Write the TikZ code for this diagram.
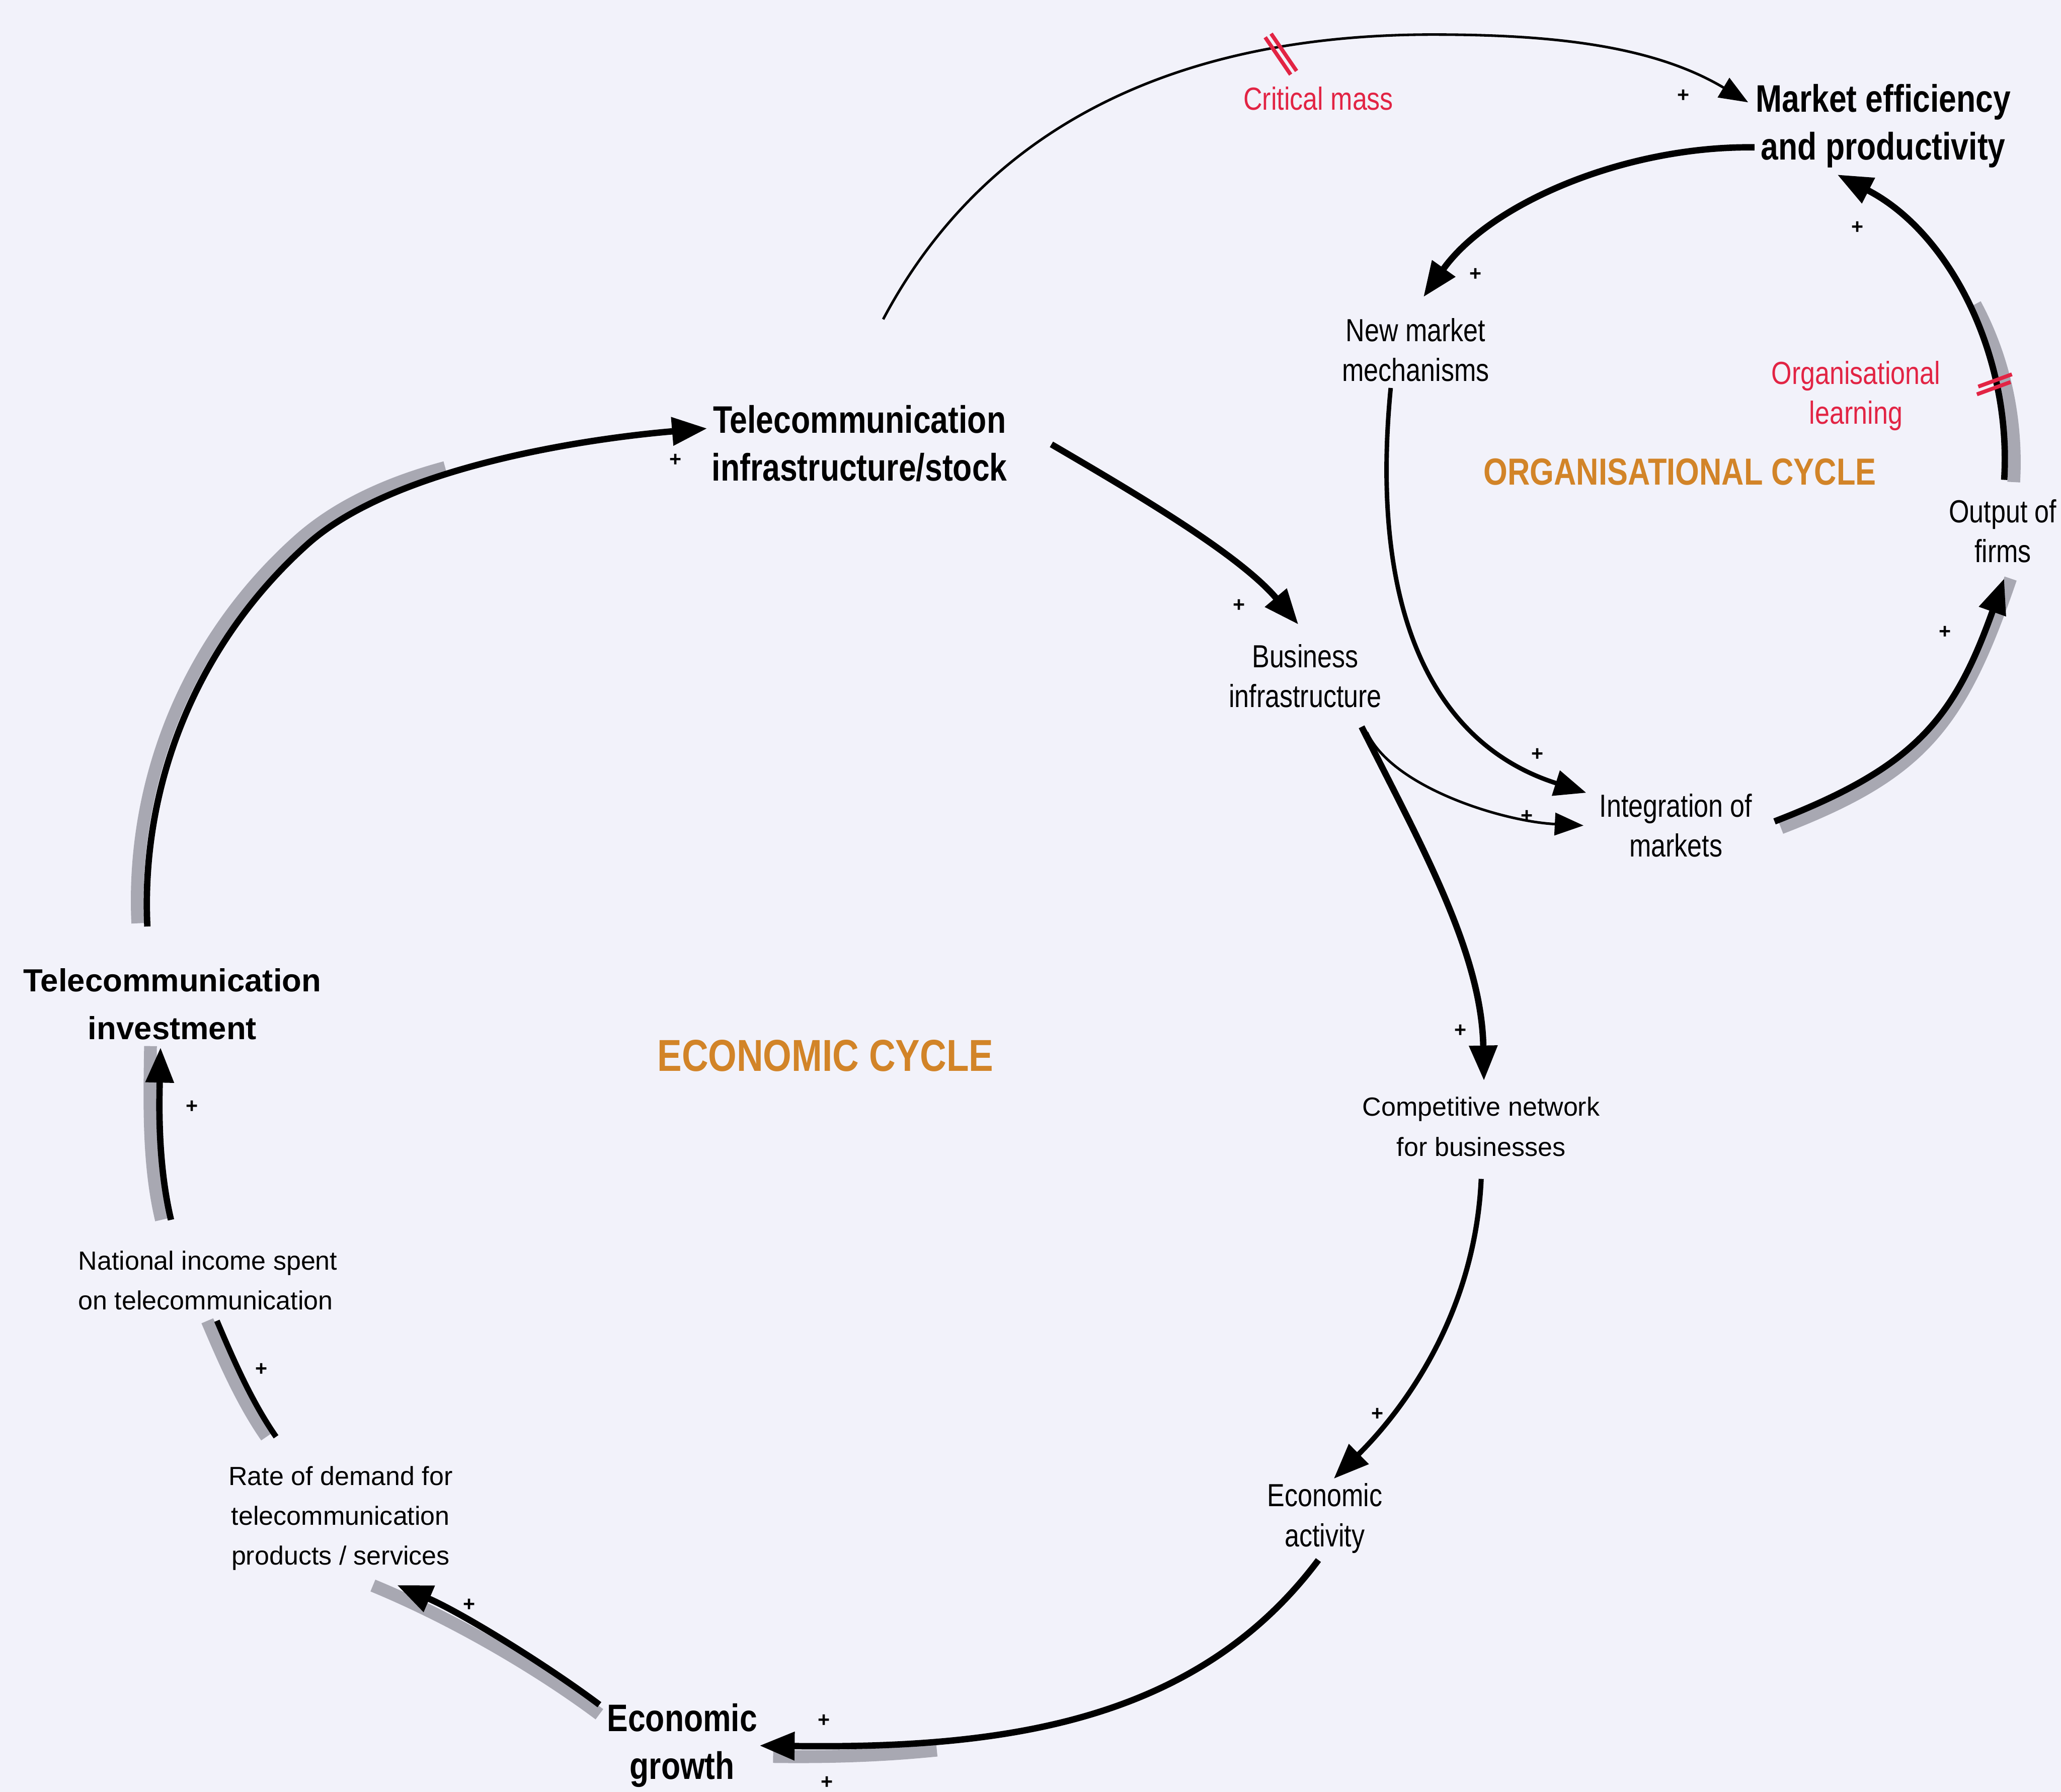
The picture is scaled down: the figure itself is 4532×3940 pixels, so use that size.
\documentclass[tikz,border=0pt]{standalone}
\usepackage{fontspec}
\setmainfont{Liberation Sans}
\newfontfamily\narrowsans{Liberation Sans}[FakeStretch=0.82]
\usepackage{tikz}
\usetikzlibrary{arrows.meta, calc}
\usepackage{xcolor}
\definecolor{paper}{RGB}{242,242,250}
\definecolor{delayred}{RGB}{226,36,68}
\definecolor{cycleorange}{RGB}{210,132,40}
\definecolor{shadowgrey}{RGB}{168,168,178}

\tikzset{
  var/.style={font=\narrowsans\fontsize{10}{12.5}\selectfont, align=center, inner sep=0pt},
  widevar/.style={font=\fontsize{8.2}{12.5}\selectfont, align=center, inner sep=0pt},
  keyvar/.style={font=\narrowsans\bfseries\fontsize{12}{15}\selectfont, align=center, inner sep=0pt},
  cyclename/.style={cycleorange, inner sep=0pt},
  plus/.style={font=\bfseries\fontsize{6.5}{6.5}\selectfont, inner sep=0pt},
  link/.style={-{Triangle[length=11pt,width=8.5pt]}, line width=2pt},
  midlink/.style={-{Triangle[length=10pt,width=8pt]}, line width=1.4pt},
  thinlink/.style={-{Triangle[length=9pt,width=7pt]}, line width=0.8pt},
  shadowband/.style={shadowgrey, line width=4pt},
  hash/.style={delayred, line width=1.2pt}
}

\begin{document}
\begin{tikzpicture}[x=0.005cm, y=-0.005cm]
  \useasboundingbox (0,0) rectangle (4532,3940);
  \fill[paper] (0,0) rectangle (4532,3940);

  % variables
  \node[keyvar] (infra) at (1890,975) {Telecommunication\\infrastructure/stock};
  \node[keyvar] (market) at (4141,277) {Market efficiency\\and productivity};
  \node[var] (newmkt) at (3113,769) {New market\\mechanisms};
  \node[var, delayred] (orglearn) at (4081,870) {Organisational\\learning};
  \node[cyclename, font=\narrowsans\bfseries\fontsize{11.8}{14}\selectfont] (orgcycle) at (3694,1038) {ORGANISATIONAL CYCLE};
  \node[var] (output) at (4404,1168) {Output of\\firms};
  \node[var] (busin) at (2870,1486) {Business\\infrastructure};
  \node[var] (integ) at (3685,1815) {Integration of\\markets};
  \node[widevar] (compnet) at (3257,2477) {Competitive network\\for businesses};
  \node[var] (econact) at (2913,3338) {Economic\\activity};
  \node[keyvar] (growth) at (1500,3838) {Economic\\growth};
  \node[widevar] (demand) at (749,3338) {Rate of demand for\\telecommunication\\products / services};
  \node[widevar, align=left] (natinc) at (457,2815) {National income spent\\on telecommunication};
  \node[font=\bfseries\fontsize{10}{15}\selectfont, align=center, inner sep=0pt] (invest) at (379,2208) {Telecommunication\\investment};
  \node[cyclename, font=\narrowsans\bfseries\fontsize{14}{16}\selectfont] (econcycle) at (1815,2321) {ECONOMIC CYCLE};
  \node[var, delayred] (critmass) at (2899,217) {Critical mass};

  % grey shading under the loops
  \begin{scope}[shadowband]
    \draw[transform canvas={xshift=-3pt, yshift=1pt}] ($(invest)+(-55,-171)$) .. controls (309,1717) and (439,1408) .. (678,1195) .. controls (760,1122) and (870,1070) .. (1000,1035);
    \draw[transform canvas={xshift=-3pt}] ($(natinc)+(-81,-133)$) .. controls (347,2560) and (350,2429) .. (352,2300);
    \draw[transform canvas={xshift=-3pt}] ($(demand)+(-142,-179)$) .. controls (553,3081) and (514,2991) .. ($(natinc)+(20,89)$);
    \draw[transform canvas={yshift=-3pt}] ($(growth)+(-182,-90)$) .. controls (1198,3658) and (1011,3544) .. (820,3465);
    \draw (1700,3862) .. controls (1850,3864) and (1960,3858) .. (2060,3848);
    \draw[transform canvas={xshift=2pt, yshift=-2pt}] ($(integ)+(217,-9)$) .. controls (4210,1687) and (4296,1583) .. ($(output)+(3,90)$);
    \draw (4428,1060) .. controls (4436,922) and (4406,786) .. (4343,669);
  \end{scope}

  % organisational cycle
  \draw[thinlink] ($(infra)+(52,-273)$) .. controls (2153,304) and (2550,76) .. (3150,76) .. controls (3400,76) and (3630,97) .. ($(market)+(-297,-52)$);
  \draw[link] ($(market)+(-283,47)$) .. controls (3578,320) and (3278,445) .. ($(newmkt)+(17,-116)$);
  \draw[link] ($(output)+(3,-113)$) .. controls (4424,780) and (4286,510) .. ($(market)+(-101,107)$);
  \draw[midlink] ($(newmkt)+(-55,84)$) .. controls (3010,1350) and (3154,1637) .. ($(integ)+(-197,-72)$);
  \draw[thinlink] ($(busin)+(136,124)$) .. controls (3060,1730) and (3302,1806) .. ($(integ)+(-203,0)$);
  \draw[link] ($(integ)+(217,-9)$) .. controls (4210,1687) and (4296,1583) .. ($(output)+(3,104)$);

  % economic cycle
  \draw[link] ($(infra)+(422,2)$) .. controls (2502,1088) and (2726,1220) .. ($(busin)+(-15,-113)$);
  \draw[link] ($(busin)+(124,112)$) .. controls (3129,1866) and (3258,2096) .. ($(compnet)+(6,-101)$);
  \draw[link, line width=1.6pt] ($(compnet)+(0,115)$) .. controls (3243,2900) and (3075,3111) .. ($(econact)+(20,-87)$);
  \draw[link] ($(econact)+(-14,92)$) .. controls (2629,3790) and (2200,3845) .. ($(growth)+(170,0)$);
  \draw[link] ($(growth)+(-182,-90)$) .. controls (1198,3658) and (1011,3544) .. ($(demand)+(124,147)$);
  \draw[line width=1.8pt] ($(demand)+(-142,-179)$) .. controls (553,3081) and (514,2991) .. ($(natinc)+(20,89)$);
  \draw[link] ($(natinc)+(-81,-133)$) .. controls (347,2560) and (350,2429) .. ($(invest)+(-26,95)$);
  \draw[link] ($(invest)+(-55,-171)$) .. controls (309,1717) and (439,1408) .. (678,1195) .. controls (865,1029) and (1280,965) .. ($(infra)+(-335,-33)$);

  % delay marks
  \draw[hash] (2782,82) -- (2838,164);
  \draw[hash] (2795,74) -- (2851,156);
  \draw[hash] (4350,850) -- (4424,823);
  \draw[hash] (4347,867) -- (4421,840);

  % polarities
  \foreach \px/\py [count=\k] in {3702/211, 3245/604, 4084/500, 1485/1012, 2725/1332, 3381/1659, 3358/1795, 4277/1390, 3211/2266, 3029/3110, 422/2433, 575/3011, 1032/3529, 1812/3783, 1818/3919}
    \node[plus] (plus\k) at (\px,\py) {+};
\end{tikzpicture}
\end{document}
